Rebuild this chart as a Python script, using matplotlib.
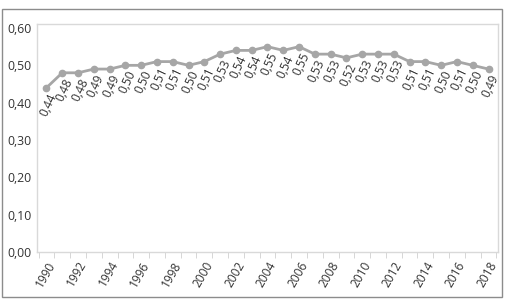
import matplotlib
matplotlib.use("Agg")
import matplotlib.pyplot as plt
from matplotlib.patches import Rectangle

years = list(range(1990, 2019))
values = [0.44, 0.48, 0.48, 0.49, 0.49, 0.50, 0.50, 0.51, 0.51, 0.50,
          0.51, 0.53, 0.54, 0.54, 0.55, 0.54, 0.55, 0.53, 0.53, 0.52,
          0.53, 0.53, 0.53, 0.51, 0.51, 0.50, 0.51, 0.50, 0.49]
yticks = [0.0, 0.1, 0.2, 0.3, 0.4, 0.5, 0.6]

plt.rcParams['font.family'] = ['Open Sans', 'DejaVu Sans']

W, H = 506, 305
fig = plt.figure(figsize=(W / 100, H / 100), dpi=100)

# outer frame
fig.patches.append(Rectangle((2 / W, 1 - 297 / H), (502 - 2) / W, (297 - 9) / H,
                             transform=fig.transFigure, fill=False,
                             edgecolor='#8c8c8c', linewidth=1.0))

left, right, top, bottom = 37, 498, 24, 252
ax = fig.add_axes([left / W, 1 - bottom / H, (right - left) / W, (bottom - top) / H])

x = list(range(len(years)))
color = '#a6a6a6'
ax.plot(x, values, color=color, linewidth=2.0, marker='o', markersize=4.5,
        markerfacecolor=color, markeredgecolor=color, solid_capstyle='round')

for xi, v in zip(x, values):
    ax.annotate(f"{v:.2f}".replace('.', ','), xy=(xi, v), xytext=(5, -4.5),
                textcoords='offset points', rotation=65, rotation_mode='anchor',
                ha='right', va='center', fontsize=8.6, color='#333333')

ax.set_xlim(-0.6, len(years) - 0.4)
ax.set_ylim(0, 0.6 * (bottom - top) / (bottom - 28))

ax.set_yticks(yticks)
ax.set_yticklabels([f"{t:.2f}".replace('.', ',') for t in yticks],
                   fontsize=8.8, color='#333333')
ax.tick_params(axis='y', length=0, pad=4)

ax.set_xticks([i - 0.5 for i in range(len(years) + 1)], minor=True)
ax.set_xticks([i for i in x if years[i] % 2 == 0])
ax.set_xticklabels([str(years[i]) for i in x if years[i] % 2 == 0],
                   rotation=60, ha='right', rotation_mode='anchor',
                   fontsize=8.6, color='#333333')
ax.tick_params(axis='x', which='major', length=0, pad=5)
ax.tick_params(axis='x', which='minor', length=4, color='#d0d0d0', direction='out')

for s in ax.spines.values():
    s.set_color('#d9d9d9')
    s.set_linewidth(1.0)

fig.savefig('out.png', dpi=100)
